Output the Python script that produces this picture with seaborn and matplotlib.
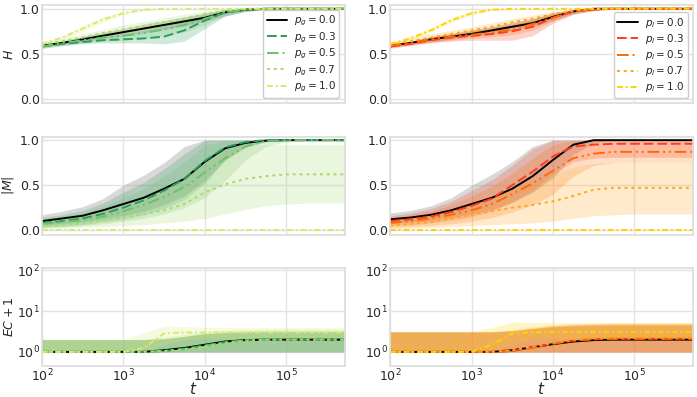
import numpy as np
import pandas as pd
import matplotlib
matplotlib.use('Agg')
import matplotlib.pyplot as plt
import seaborn as sns

# time grid, log10 t = 2.0 ... 5.75 step 0.25
t = [1e2, 1.78e2, 3.16e2, 5.62e2, 1e3, 1.78e3, 3.16e3, 5.62e3,
     1e4, 1.78e4, 3.16e4, 5.62e4, 1e5, 1.78e5, 3.16e5, 5.62e5]

p_values = [0.0, 0.3, 0.5, 0.7, 1.0]

# ---- H, left (p_g) ----
H_g_mean = [
    [0.59, 0.62, 0.66, 0.70, 0.74, 0.78, 0.82, 0.86, 0.90, 0.96, 0.99, 1, 1, 1, 1, 1],
    [0.58, 0.61, 0.63, 0.65, 0.66, 0.67, 0.69, 0.76, 0.87, 0.96, 0.99, 1, 1, 1, 1, 1],
    [0.58, 0.62, 0.65, 0.68, 0.70, 0.73, 0.77, 0.82, 0.89, 0.96, 0.99, 1, 1, 1, 1, 1],
    [0.60, 0.64, 0.68, 0.73, 0.77, 0.81, 0.85, 0.89, 0.94, 0.98, 1, 1, 1, 1, 1, 1],
    [0.61, 0.68, 0.78, 0.88, 0.95, 0.99, 1, 1, 1, 1, 1, 1, 1, 1, 1, 1],
]
H_g_lo = [
    [0.57, 0.60, 0.63, 0.67, 0.70, 0.73, 0.77, 0.81, 0.86, 0.92, 0.97, 0.99, 1, 1, 1, 1],
    [0.56, 0.59, 0.61, 0.62, 0.62, 0.62, 0.61, 0.64, 0.78, 0.92, 0.97, 0.99, 1, 1, 1, 1],
    [0.56, 0.59, 0.62, 0.64, 0.65, 0.67, 0.70, 0.74, 0.82, 0.93, 0.98, 1, 1, 1, 1, 1],
    [0.58, 0.61, 0.64, 0.68, 0.72, 0.76, 0.80, 0.84, 0.90, 0.96, 0.99, 1, 1, 1, 1, 1],
    [0.60, 0.66, 0.75, 0.85, 0.93, 0.98, 1, 1, 1, 1, 1, 1, 1, 1, 1, 1],
]
H_g_hi = [
    [0.61, 0.64, 0.69, 0.74, 0.78, 0.83, 0.87, 0.91, 0.95, 0.99, 1, 1, 1, 1, 1, 1],
    [0.60, 0.63, 0.66, 0.69, 0.72, 0.76, 0.81, 0.87, 0.94, 0.99, 1, 1, 1, 1, 1, 1],
    [0.60, 0.65, 0.69, 0.73, 0.76, 0.80, 0.85, 0.90, 0.95, 0.99, 1, 1, 1, 1, 1, 1],
    [0.62, 0.67, 0.72, 0.77, 0.82, 0.86, 0.90, 0.94, 0.97, 1, 1, 1, 1, 1, 1, 1],
    [0.62, 0.70, 0.81, 0.91, 0.97, 1, 1, 1, 1, 1, 1, 1, 1, 1, 1, 1],
]

# ---- H, right (p_l) ----
H_l_mean = [
    [0.59, 0.62, 0.66, 0.69, 0.72, 0.76, 0.80, 0.84, 0.91, 0.97, 1, 1, 1, 1, 1, 1],
    [0.58, 0.61, 0.65, 0.68, 0.70, 0.72, 0.75, 0.80, 0.90, 0.97, 0.99, 1, 1, 1, 1, 1],
    [0.59, 0.62, 0.66, 0.69, 0.71, 0.74, 0.77, 0.83, 0.90, 0.97, 0.995, 1, 1, 1, 1, 1],
    [0.60, 0.64, 0.68, 0.72, 0.76, 0.80, 0.85, 0.89, 0.94, 0.98, 1, 1, 1, 1, 1, 1],
    [0.61, 0.67, 0.76, 0.87, 0.95, 0.99, 1, 1, 1, 1, 1, 1, 1, 1, 1, 1],
]
H_l_lo = [
    [0.57, 0.60, 0.63, 0.66, 0.69, 0.72, 0.76, 0.80, 0.87, 0.94, 0.98, 1, 1, 1, 1, 1],
    [0.56, 0.59, 0.62, 0.64, 0.65, 0.65, 0.65, 0.70, 0.84, 0.94, 0.98, 1, 1, 1, 1, 1],
    [0.57, 0.60, 0.63, 0.65, 0.67, 0.69, 0.71, 0.76, 0.86, 0.95, 0.99, 1, 1, 1, 1, 1],
    [0.58, 0.61, 0.65, 0.69, 0.72, 0.76, 0.81, 0.85, 0.91, 0.96, 0.99, 1, 1, 1, 1, 1],
    [0.60, 0.65, 0.74, 0.85, 0.93, 0.98, 1, 1, 1, 1, 1, 1, 1, 1, 1, 1],
]
H_l_hi = [
    [0.61, 0.64, 0.69, 0.72, 0.76, 0.80, 0.85, 0.89, 0.95, 0.99, 1, 1, 1, 1, 1, 1],
    [0.60, 0.63, 0.68, 0.72, 0.76, 0.79, 0.83, 0.88, 0.95, 0.99, 1, 1, 1, 1, 1, 1],
    [0.61, 0.64, 0.69, 0.73, 0.76, 0.80, 0.84, 0.89, 0.95, 0.99, 1, 1, 1, 1, 1, 1],
    [0.62, 0.67, 0.72, 0.76, 0.80, 0.84, 0.89, 0.93, 0.97, 1, 1, 1, 1, 1, 1, 1],
    [0.62, 0.69, 0.79, 0.90, 0.97, 1, 1, 1, 1, 1, 1, 1, 1, 1, 1, 1],
]

# ---- |M|, left ----
M_g_mean = [
    [0.10, 0.13, 0.16, 0.22, 0.29, 0.36, 0.46, 0.57, 0.76, 0.91, 0.97, 0.995, 1, 1, 1, 1],
    [0.08, 0.10, 0.13, 0.18, 0.25, 0.33, 0.44, 0.57, 0.77, 0.92, 0.98, 1, 1, 1, 1, 1],
    [0.07, 0.09, 0.11, 0.15, 0.21, 0.28, 0.37, 0.48, 0.64, 0.80, 0.93, 0.99, 1, 1, 1, 1],
    [0.05, 0.06, 0.08, 0.11, 0.14, 0.18, 0.22, 0.29, 0.42, 0.51, 0.57, 0.60, 0.62, 0.62, 0.62, 0.62],
    [0.0] * 16,
]
M_g_lo = [
    [0.05, 0.07, 0.09, 0.12, 0.16, 0.21, 0.28, 0.38, 0.55, 0.78, 0.92, 0.98, 1, 1, 1, 1],
    [0.03, 0.04, 0.06, 0.09, 0.12, 0.17, 0.24, 0.34, 0.52, 0.78, 0.93, 0.99, 1, 1, 1, 1],
    [0.03, 0.04, 0.05, 0.07, 0.10, 0.13, 0.18, 0.25, 0.36, 0.55, 0.78, 0.93, 0.98, 1, 1, 1],
    [0.01, 0.02, 0.03, 0.04, 0.05, 0.06, 0.08, 0.10, 0.13, 0.18, 0.23, 0.27, 0.29, 0.30, 0.30, 0.30],
    [0.0] * 16,
]
M_g_hi = [
    [0.17, 0.21, 0.26, 0.35, 0.50, 0.61, 0.75, 0.93, 1, 1, 1, 1, 1, 1, 1, 1],
    [0.14, 0.17, 0.22, 0.30, 0.42, 0.53, 0.68, 0.85, 1, 1, 1, 1, 1, 1, 1, 1],
    [0.12, 0.15, 0.19, 0.26, 0.36, 0.46, 0.60, 0.76, 0.94, 1, 1, 1, 1, 1, 1, 1],
    [0.10, 0.12, 0.15, 0.20, 0.27, 0.35, 0.45, 0.60, 0.80, 0.90, 0.94, 0.95, 0.95, 0.95, 0.95, 0.95],
    [0.0] * 16,
]

# ---- |M|, right ----
M_l_mean = [
    [0.12, 0.14, 0.17, 0.22, 0.29, 0.36, 0.46, 0.60, 0.78, 0.95, 1, 1, 1, 1, 1, 1],
    [0.10, 0.12, 0.15, 0.20, 0.27, 0.35, 0.50, 0.65, 0.82, 0.93, 0.95, 0.96, 0.96, 0.96, 0.96, 0.96],
    [0.08, 0.10, 0.13, 0.17, 0.22, 0.29, 0.40, 0.52, 0.66, 0.80, 0.85, 0.87, 0.87, 0.87, 0.87, 0.87],
    [0.05, 0.07, 0.09, 0.13, 0.17, 0.21, 0.25, 0.28, 0.32, 0.38, 0.45, 0.47, 0.47, 0.47, 0.47, 0.47],
    [0.0] * 16,
]
M_l_lo = [
    [0.07, 0.09, 0.11, 0.14, 0.18, 0.23, 0.31, 0.42, 0.58, 0.84, 0.97, 1, 1, 1, 1, 1],
    [0.05, 0.06, 0.08, 0.11, 0.15, 0.21, 0.31, 0.44, 0.62, 0.76, 0.80, 0.81, 0.81, 0.81, 0.81, 0.81],
    [0.03, 0.04, 0.05, 0.07, 0.10, 0.14, 0.20, 0.28, 0.40, 0.60, 0.72, 0.75, 0.75, 0.75, 0.75, 0.75],
    [0.01, 0.02, 0.03, 0.04, 0.05, 0.06, 0.07, 0.08, 0.10, 0.13, 0.16, 0.17, 0.18, 0.18, 0.18, 0.18],
    [0.0] * 16,
]
M_l_hi = [
    [0.19, 0.22, 0.27, 0.36, 0.50, 0.62, 0.76, 0.93, 1, 1, 1, 1, 1, 1, 1, 1],
    [0.16, 0.19, 0.24, 0.32, 0.44, 0.56, 0.72, 0.90, 1, 1, 1, 1, 1, 1, 1, 1],
    [0.14, 0.17, 0.21, 0.28, 0.38, 0.49, 0.63, 0.80, 0.95, 1, 1, 1, 1, 1, 1, 1],
    [0.10, 0.13, 0.17, 0.23, 0.30, 0.38, 0.46, 0.55, 0.64, 0.70, 0.74, 0.75, 0.75, 0.75, 0.75, 0.75],
    [0.0] * 16,
]

# ---- EC + 1, left ----
EC_g_mean = [
    [1, 1, 1, 1, 1, 1, 1.10, 1.25, 1.50, 1.80, 1.95, 2, 2, 2, 2, 2],
    [1, 1, 1, 1, 1, 1, 1.05, 1.20, 1.45, 1.75, 1.93, 2, 2, 2, 2, 2],
    [1, 1, 1, 1, 1, 1, 1.05, 1.15, 1.40, 1.70, 1.90, 1.98, 2, 2, 2, 2],
    [1, 1, 1, 1, 1, 1, 1.05, 1.15, 1.35, 1.65, 1.90, 2, 2, 2, 2, 2],
    [1, 1, 1, 1, 1, 1.25, 2.85, 3, 3, 3, 3, 3, 3, 3, 3, 3],
]
EC_g_lo = [
    [1] * 16,
    [1] * 16,
    [1] * 16,
    [1] * 16,
    [1, 1, 1, 1, 1, 1, 1.5, 2.0, 2.1, 2.1, 2.1, 2.1, 2.1, 2.1, 2.1, 2.1],
]
EC_g_hi = [
    [2, 2, 2, 2, 2, 2, 2.1, 2.4, 2.8, 3.0, 3.1, 3.2, 3.2, 3.2, 3.2, 3.2],
    [2, 2, 2, 2, 2, 2, 2.1, 2.4, 2.8, 3.0, 3.1, 3.2, 3.2, 3.2, 3.2, 3.2],
    [2, 2, 2, 2, 2, 2, 2.1, 2.4, 2.8, 3.0, 3.1, 3.2, 3.2, 3.2, 3.2, 3.2],
    [2, 2, 2, 2, 2, 2.05, 2.3, 2.7, 3.1, 3.4, 3.5, 3.6, 3.6, 3.6, 3.6, 3.6],
    [2, 2, 2, 2, 2.05, 3.0, 4.3, 4.2, 4.0, 4.0, 4.0, 4.0, 4.0, 4.0, 4.0, 4.0],
]

# ---- EC + 1, right ----
EC_l_mean = [
    [1, 1, 1, 1, 1, 1, 1.10, 1.30, 1.55, 1.80, 1.95, 2, 2, 2, 2, 2],
    [1, 1, 1, 1, 1, 1, 1.05, 1.30, 1.60, 1.90, 2.05, 2.1, 2.1, 2.1, 2.1, 2.1],
    [1, 1, 1, 1, 1, 1, 1.05, 1.25, 1.60, 1.90, 2.05, 2.1, 2.1, 2.1, 2.1, 2.1],
    [1, 1, 1, 1, 1, 1, 1.10, 1.35, 1.70, 2.00, 2.20, 2.25, 2.25, 2.25, 2.25, 2.25],
    [1, 1, 1, 1, 1, 1.5, 2.85, 3.05, 3.05, 3.05, 3.05, 3.05, 3.05, 3.05, 3.05, 3.05],
]
EC_l_lo = [
    [1] * 16,
    [1] * 16,
    [1] * 16,
    [1] * 16,
    [1, 1, 1, 1, 1, 1, 1.5, 2.0, 2.1, 2.1, 2.1, 2.1, 2.1, 2.1, 2.1, 2.1],
]
EC_l_hi = [
    [3.1, 3.1, 3.1, 3.1, 3.1, 3.1, 3.3, 3.7, 4.1, 4.3, 4.4, 4.5, 4.5, 4.5, 4.5, 4.5],
    [3.1, 3.1, 3.1, 3.1, 3.1, 3.1, 3.3, 3.8, 4.3, 4.6, 4.7, 4.8, 4.8, 4.8, 4.8, 4.8],
    [3.1, 3.1, 3.1, 3.1, 3.1, 3.1, 3.3, 3.8, 4.3, 4.6, 4.8, 4.9, 4.9, 4.9, 4.9, 4.9],
    [3.1, 3.1, 3.1, 3.1, 3.1, 3.15, 3.5, 4.1, 4.6, 4.9, 5.0, 5.1, 5.1, 5.1, 5.1, 5.1],
    [3.1, 3.1, 3.1, 3.1, 3.15, 4.0, 5.4, 5.3, 5.2, 5.2, 5.2, 5.2, 5.2, 5.2, 5.2, 5.2],
]

green_colors = ['black', '#2a9d5c', '#6cc16a', '#a8d96b', '#d6eb6a']
orange_colors = ['black', '#ff3b1f', '#ff6a00', '#ffa51a', '#ffd200']
band_alpha = [0.3, 0.22, 0.22, 0.22, 0.22]
line_styles = ['-', (0, (5, 2)), (0, (6, 2, 1, 2, 1, 2)), (0, (1.5, 2)), (0, (3, 1.5, 1, 1.5))]

sns.set_theme(style='whitegrid')
plt.rcParams['font.family'] = ['DejaVu Sans']
plt.rcParams['axes.edgecolor'] = '#dddddd'
plt.rcParams['grid.color'] = '#e3e3e3'

fig, axes = plt.subplots(3, 2, figsize=(6.97, 3.97), dpi=100, sharex=True)
fig.subplots_adjust(left=0.06, right=0.994, top=0.987, bottom=0.078, wspace=0.15, hspace=0.34)

panels = [
    (H_g_mean, H_g_lo, H_g_hi, H_l_mean, H_l_lo, H_l_hi, r'$H$'),
    (M_g_mean, M_g_lo, M_g_hi, M_l_mean, M_l_lo, M_l_hi, r'$|M|$'),
    (EC_g_mean, EC_g_lo, EC_g_hi, EC_l_mean, EC_l_lo, EC_l_hi, r'$EC+1$'),
]

for row, (gm, glo, ghi, lm, llo, lhi, ylab) in enumerate(panels):
    for col, (mean, lo, hi, colors, sub) in enumerate([
            (gm, glo, ghi, green_colors, 'g'),
            (lm, llo, lhi, orange_colors, 'l')]):
        ax = axes[row, col]
        for i, p in enumerate(p_values):
            c = 'grey' if i == 0 else colors[i]
            ax.fill_between(t, lo[i], hi[i], color=c, alpha=band_alpha[i], lw=0)
        for i, p in enumerate(p_values):
            df = pd.DataFrame({'t': t, 'y': mean[i]})
            sns.lineplot(data=df, x='t', y='y', ax=ax, color=colors[i],
                         linestyle=line_styles[i], lw=1.4,
                         label=r'$p_%s = %.1f$' % (sub, p))
        ax.set_xscale('log')
        ax.set_xlim(1e2, 5.2e5)
        if row < 2:
            ax.set_ylim(-0.05, 1.04)
            ax.set_yticks([0.0, 0.5, 1.0])
        else:
            ax.set_yscale('log')
            ax.set_ylim(0.45, 115)
            ax.set_yticks([1, 10, 100])
        ax.tick_params(labelsize=9, pad=1.5, length=0)
        ax.tick_params(axis='x', pad=1)
        ax.set_ylabel(ylab if col == 0 else '', fontsize=9, labelpad=0.5)
        if row == 2:
            ax.set_xlabel(r'$t$', fontsize=11, labelpad=-2)
        else:
            ax.set_xlabel('')
        if row == 0:
            ax.legend(loc='lower right', fontsize=7.5, handlelength=2.0,
                      handletextpad=0.6, borderpad=0.35, labelspacing=0.2,
                      framealpha=1)
        else:
            ax.get_legend().remove()

fig.align_ylabels(axes[:, 0])
fig.savefig('out.png', dpi=100)
